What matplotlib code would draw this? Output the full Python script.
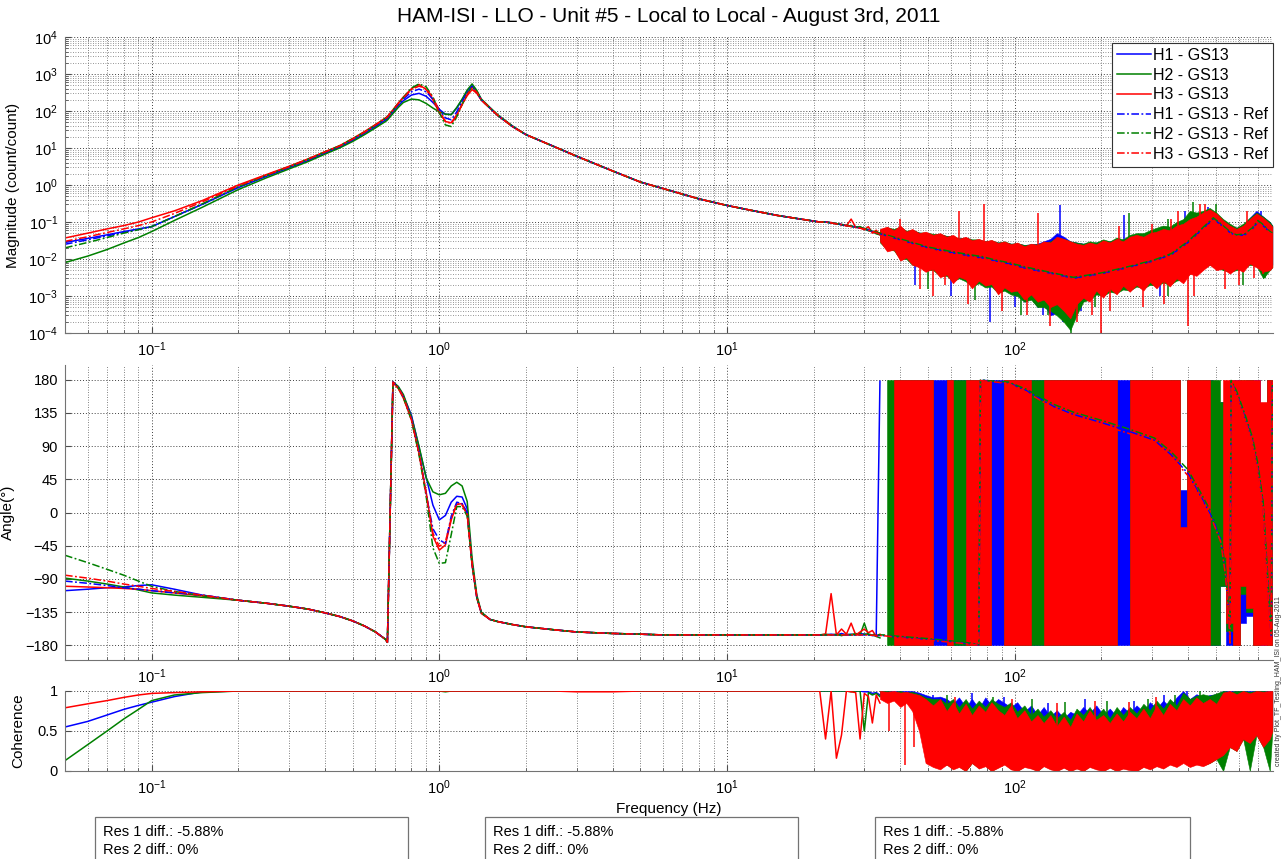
import matplotlib
matplotlib.use('Agg')
import matplotlib.pyplot as plt
from matplotlib.ticker import LogLocator, FixedLocator, NullFormatter
from matplotlib.patches import Rectangle

plt.rcParams['font.family'] = ['Liberation Sans', 'DejaVu Sans']
plt.rcParams['mathtext.fontset'] = 'custom'
plt.rcParams['mathtext.rm'] = 'Liberation Sans'
plt.rcParams['mathtext.default'] = 'regular'
plt.rcParams['font.size'] = 10

nan = float('nan')

# frequency grids (Hz)
freq_lo = [0.05, 0.06, 0.07, 0.08, 0.09, 0.1, 0.12, 0.15, 0.2, 0.25,
           0.3, 0.35, 0.4, 0.45, 0.5, 0.55, 0.6, 0.65, 0.66, 0.69,
           0.72, 0.75, 0.8, 0.85, 0.9, 0.95, 1.0, 1.05, 1.1, 1.15,
           1.2, 1.25, 1.3, 1.35, 1.4, 1.5, 1.6, 1.8, 2.0, 2.5,
           3.0, 4.0, 5.0, 6.0, 8.0, 10.0, 12.0, 15.0, 18.0, 21.0]
freq_mid = [22, 23, 24, 25, 26, 27, 28, 29, 30, 31, 32, 33, 34]
freq_band = [34, 36, 38, 40, 42, 44, 46.5, 49, 52, 55,
             58, 61, 64, 67.5, 71, 75, 79, 83, 87.5, 92,
             97, 102, 108, 114, 120, 126, 133, 140, 148, 156,
             164, 173, 182, 192, 203, 214, 226, 238, 251, 265,
             280, 295, 311, 328, 346, 365, 385, 406, 428, 451,
             476, 502, 530, 559, 590, 622, 656, 692, 730, 770,
             786]
freq_ref_hi = [22, 25, 30, 35, 40, 50, 60, 70, 75, 76, 85, 95, 110, 136, 160,
               200, 250, 306, 350, 400, 450, 490, 520, 540, 555, 560, 565,
               590, 630, 670, 700, 730, 766, 780, 786]
freq_line = freq_lo + freq_mid

# ---- magnitude (count/count) ----
mag_h1 = [0.028, 0.036, 0.045, 0.055, 0.065, 0.075, 0.14, 0.3, 0.85,
          1.7, 2.9, 4.6, 7.2, 10.5, 16, 25, 38, 57, 63, 95, 140, 190,
          270, 300, 250, 170, 110, 82, 80, 120, 200, 340, 480, 330, 200,
          120, 75, 38, 23, 11, 6, 2.4, 1.2, 0.8, 0.42, 0.28, 0.21, 0.15, 0.12, 0.1,
          0.1, 0.095, 0.09, 0.085, 0.08, 0.077, 0.073, 0.07, 0.066, 0.06, 0.055, 0.05, 0.047]
mag_h2 = [0.008, 0.012, 0.018, 0.027, 0.038, 0.055, 0.11, 0.25, 0.75,
          1.55, 2.7, 4.3, 6.8, 10, 15, 23, 35, 52, 57, 85, 125, 170,
          210, 200, 160, 120, 95, 82, 80, 125, 210, 370, 540, 360, 210,
          125, 78, 39, 23, 11, 6, 2.4, 1.2, 0.8, 0.42, 0.28, 0.21, 0.15, 0.12, 0.1,
          0.1, 0.094, 0.09, 0.084, 0.08, 0.076, 0.073, 0.075, 0.065, 0.058, 0.056, 0.048, 0.045]
mag_h3 = [0.037, 0.05, 0.065, 0.08, 0.1, 0.13, 0.2, 0.38, 1.0,
          1.9, 3.2, 5.1, 7.9, 11.5, 18, 28, 43, 65, 71, 108, 165, 240,
          400, 520, 380, 200, 90, 52, 48, 80, 150, 260, 380, 300, 195,
          118, 74, 37, 23, 11, 6, 2.4, 1.2, 0.8, 0.42, 0.28, 0.21, 0.15, 0.12, 0.1,
          0.1, 0.097, 0.089, 0.086, 0.079, 0.12, 0.072, 0.069, 0.062, 0.075, 0.05, 0.06, 0.045]

mag_h1r_lo = [0.025, 0.033, 0.042, 0.052, 0.063, 0.075, 0.14, 0.3, 0.88,
              1.75, 3.0, 4.8, 7.5, 11, 17, 26, 40, 60, 66, 100, 150, 210,
              330, 390, 330, 210, 110, 65, 58, 95, 180, 320, 460, 320, 200,
              120, 75, 38, 23, 11, 6, 2.4, 1.2, 0.8, 0.42, 0.28, 0.21, 0.15, 0.12, 0.1]
mag_h2r_lo = [0.02, 0.028, 0.038, 0.05, 0.062, 0.075, 0.14, 0.31, 0.9,
              1.8, 3.1, 5.0, 7.8, 11.5, 18, 27, 42, 64, 70, 106, 160, 230,
              420, 540, 450, 240, 90, 42, 38, 70, 150, 290, 450, 330, 200,
              120, 75, 38, 23, 11, 6, 2.4, 1.2, 0.8, 0.42, 0.28, 0.21, 0.15, 0.12, 0.1]
mag_h3r_lo = [0.03, 0.04, 0.052, 0.065, 0.08, 0.1, 0.17, 0.35, 0.95,
              1.85, 3.1, 5.0, 7.8, 11.3, 17.5, 27, 42, 63, 69, 104, 158, 225,
              380, 470, 400, 230, 100, 52, 46, 75, 150, 280, 420, 320, 200,
              120, 75, 38, 23, 11, 6, 2.4, 1.2, 0.8, 0.42, 0.28, 0.21, 0.15, 0.12, 0.1]
mag_h1r_hi = [0.1, 0.085, 0.066, 0.045, 0.033, 0.02, 0.015, 0.012, 0.011, 0.011,
              0.009, 0.0075, 0.0055, 0.004, 0.003, 0.004, 0.006, 0.009, 0.013, 0.028,
              0.065, 0.12, 0.085, 0.065, 0.055, 0.052, 0.05, 0.042, 0.045, 0.065,
              0.1, 0.08, 0.055, 0.05, 0.048]
mag_h2r_hi = [0.1, 0.086, 0.067, 0.047, 0.035, 0.021, 0.016, 0.013, 0.012, 0.012,
              0.0095, 0.008, 0.006, 0.0042, 0.0032, 0.0042, 0.0063, 0.0095, 0.014, 0.03,
              0.07, 0.13, 0.09, 0.07, 0.058, 0.055, 0.052, 0.045, 0.048, 0.07,
              0.11, 0.085, 0.058, 0.052, 0.05]
mag_h3r_hi = [0.1, 0.084, 0.065, 0.044, 0.032, 0.019, 0.014, 0.0115, 0.0105, 0.0105,
              0.0085, 0.007, 0.0052, 0.0038, 0.0028, 0.0038, 0.0057, 0.0085, 0.012, 0.026,
              0.06, 0.11, 0.08, 0.062, 0.052, 0.05, 0.048, 0.04, 0.043, 0.062,
              0.095, 0.075, 0.052, 0.048, 0.046]

# spread of the noisy measured magnitude above 34 Hz (low / high edge)
mag_h1_band_lo = [0.032, 0.02, 0.02, 0.012, 0.013, 0.009, 0.008, 0.006, 0.006, 0.004,
                  0.004, 0.003, 0.0035, 0.003, 0.0022, 0.0026, 0.002, 0.002, 0.0014, 0.0016,
                  0.0012, 0.0011, 0.0007, 0.0009, 0.0005, 0.0006, 0.0003, 0.00035, 0.00025, 0.0003,
                  0.0005, 0.0008, 0.0009, 0.0012, 0.0011, 0.0014, 0.0013, 0.0017, 0.0015, 0.0019,
                  0.0017, 0.0022, 0.002, 0.0025, 0.0022, 0.0028, 0.003, 0.0045, 0.005, 0.006,
                  0.008, 0.007, 0.006, 0.005, 0.006, 0.006, 0.008, 0.007, 0.006, 0.006,
                  0.007]
mag_h1_band_hi = [0.06, 0.07, 0.062, 0.07, 0.055, 0.06, 0.052, 0.05, 0.045, 0.046,
                  0.042, 0.04, 0.036, 0.038, 0.033, 0.033, 0.03, 0.03, 0.028, 0.028,
                  0.026, 0.026, 0.024, 0.025, 0.026, 0.03, 0.035, 0.05, 0.04, 0.03,
                  0.028, 0.026, 0.027, 0.028, 0.03, 0.03, 0.033, 0.033, 0.04, 0.045,
                  0.045, 0.05, 0.06, 0.07, 0.065, 0.08, 0.1, 0.13, 0.16, 0.19,
                  0.2, 0.16, 0.1, 0.08, 0.07, 0.08, 0.13, 0.2, 0.14, 0.1,
                  0.08]
mag_h2_band_lo = [0.028, 0.018, 0.017, 0.01, 0.01, 0.007, 0.0065, 0.005, 0.005, 0.0035,
                  0.0035, 0.0025, 0.003, 0.0025, 0.0018, 0.0022, 0.0017, 0.0018, 0.0012, 0.0014,
                  0.0011, 0.001, 0.0007, 0.0008, 0.0005, 0.0005, 0.0004, 0.0003, 0.0002, 0.00012,
                  0.0003, 0.0007, 0.0008, 0.0011, 0.001, 0.0013, 0.0012, 0.0015, 0.0014, 0.0018,
                  0.0016, 0.002, 0.0019, 0.0023, 0.002, 0.0026, 0.0028, 0.004, 0.0045, 0.0055,
                  0.007, 0.006, 0.005, 0.0045, 0.005, 0.0055, 0.007, 0.0065, 0.003, 0.005,
                  0.006]
mag_h2_band_hi = [0.062, 0.072, 0.065, 0.075, 0.058, 0.062, 0.052, 0.052, 0.048, 0.048,
                  0.042, 0.042, 0.036, 0.038, 0.034, 0.034, 0.03, 0.032, 0.028, 0.03,
                  0.026, 0.027, 0.024, 0.025, 0.025, 0.028, 0.03, 0.038, 0.035, 0.03,
                  0.028, 0.026, 0.03, 0.028, 0.034, 0.03, 0.038, 0.034, 0.045, 0.05,
                  0.05, 0.06, 0.07, 0.08, 0.075, 0.1, 0.12, 0.2, 0.18, 0.2,
                  0.24, 0.18, 0.12, 0.09, 0.07, 0.09, 0.13, 0.18, 0.14, 0.1,
                  0.08]
mag_h3_band_lo = [0.03, 0.016, 0.018, 0.009, 0.011, 0.007, 0.006, 0.0045, 0.0055, 0.0032,
                  0.0038, 0.0022, 0.0033, 0.0028, 0.0016, 0.0026, 0.0019, 0.0021, 0.0011, 0.0017,
                  0.0013, 0.0014, 0.0008, 0.0011, 0.0007, 0.0008, 0.0005, 0.0006, 0.0004, 0.00025,
                  0.0006, 0.0009, 0.0007, 0.0014, 0.0009, 0.0016, 0.0011, 0.0019, 0.0013, 0.002,
                  0.0014, 0.0024, 0.0016, 0.0026, 0.0018, 0.003, 0.0022, 0.004, 0.0035, 0.005,
                  0.007, 0.005, 0.0055, 0.004, 0.0055, 0.0045, 0.0075, 0.006, 0.0045, 0.005,
                  0.006]
mag_h3_band_hi = [0.065, 0.075, 0.06, 0.08, 0.055, 0.065, 0.05, 0.055, 0.045, 0.05,
                  0.04, 0.045, 0.035, 0.04, 0.032, 0.035, 0.03, 0.033, 0.027, 0.03,
                  0.025, 0.028, 0.022, 0.026, 0.024, 0.03, 0.028, 0.04, 0.035, 0.03,
                  0.026, 0.024, 0.028, 0.025, 0.032, 0.028, 0.035, 0.03, 0.04, 0.045,
                  0.04, 0.05, 0.055, 0.065, 0.06, 0.08, 0.09, 0.12, 0.14, 0.18,
                  0.22, 0.17, 0.11, 0.08, 0.065, 0.08, 0.12, 0.17, 0.13, 0.09,
                  0.075]

# isolated spikes reaching past the noise band
mag_h1_spk_f = [45, 60, 82, 100, 125, 144, 147, 170, 240, 320, 390, 470, 720]
mag_h1_spk_lo = [0.002, 0.001, 0.0002, 0.0005, 0.0003, 0.002, 0.0002, 0.0004, 0.004,
                 0.001, 0.003, 0.01, 0.01]
mag_h1_spk_hi = [0.015, 0.01, 0.003, 0.006, 0.005, 0.28, 0.006, 0.006, 0.15,
                 0.01, 0.2, 0.25, 0.2]
mag_h2_spk_f = [50, 73, 105, 130, 157, 190, 250, 340, 417, 500, 620, 740]
mag_h2_spk_lo = [0.0015, 0.0008, 0.0003, 0.0003, 0.0001, 0.0005, 0.003, 0.001, 0.01,
                 0.01, 0.002, 0.003]
mag_h2_spk_hi = [0.012, 0.008, 0.004, 0.004, 0.003, 0.006, 0.18, 0.12, 0.35,
                 0.3, 0.03, 0.05]
mag_h3_spk_f = [40, 47, 52, 57, 64, 69, 78, 90, 110, 120,
                133, 165, 185, 200, 215, 230, 280, 300, 330, 350,
                370, 400, 420, 440, 460, 540, 600, 640, 680, 730]
mag_h3_spk_lo = [0.01, 0.0015, 0.001, 0.002, 0.005, 0.0006, 0.004, 0.0004, 0.0003, 0.003,
                 0.00015, 0.0002, 0.0003, 0.0001, 0.0004, 0.003, 0.0005, 0.004, 0.0006, 0.005,
                 0.005, 0.00015, 0.001, 0.01, 0.01, 0.0015, 0.002, 0.01, 0.003, 0.004]
mag_h3_spk_hi = [0.12, 0.02, 0.015, 0.03, 0.2, 0.01, 0.3, 0.01, 0.01, 0.17,
                 0.008, 0.01, 0.01, 0.02, 0.01, 0.08, 0.01, 0.09, 0.02, 0.12,
                 0.2, 0.02, 0.05, 0.3, 0.3, 0.03, 0.04, 0.2, 0.05, 0.1]

# ---- phase (degrees) ----
ph_h1 = [-106, -104, -102, -101, -99, -98, -104, -112,
         -119, -123, -127, -131, -136, -141, -147, -154, -162, -172, -176,
         177, 170, 158,
         132, 88, 48, 10, -10, -4, 14, 22, 21, 5,
         -70, -115, -136, -145, -148, -152, -155, -159, -162, -164, -165,
         -166, -166, -166, -166, -166, -166, -166,
         -166, -165, -166, -164, -166, -165, -166, -164, -165, -165, -167, -166, 178]
ph_h2 = [-89, -93, -97, -101, -105, -109, -112, -115,
         -119, -123, -127, -131, -136, -141, -147, -154, -162, -172, -176,
         177, 171, 160,
         130, 90, 47, 28, 24, 26, 36, 41, 36, 15,
         -62, -112, -135, -145, -148, -152, -155, -159, -162, -164, -165,
         -166, -166, -166, -166, -166, -166, -166,
         -165, -166, -165, -167, -165, -166, -164, -166, -150, -166, -166, -168, -170]
ph_h3 = [-100, -101, -102, -103, -104, -106, -109, -113,
         -119, -123, -127, -131, -136, -141, -147, -154, -162, -172, -176,
         176, 168, 155,
         126, 80, 28, -32, -51, -44, -10, 11, 12, -2,
         -72, -116, -137, -145, -148, -152, -155, -159, -162, -164, -165,
         -166, -166, -166, -166, -166, -166, -166,
         -165, -110, -166, -158, -165, -150, -166, -162, -158, -163, -160, -168, -165]

ph_h1r_lo = [-93, -96, -99, -102, -104, -106, -109, -112,
             -119, -123, -127, -131, -136, -141, -147, -154, -162, -172, -176,
             177, 170, 157,
             128, 82, 25, -22, -37, -42, -5, 14, 12, 0,
             -70, -115, -136, -145, -148, -152, -155, -159, -162, -164, -165,
             -166, -166, -166, -166, -166, -166, -166]
ph_h2r_lo = [-58, -68, -77, -85, -93, -100, -107, -113,
             -119, -123, -127, -131, -136, -141, -147, -154, -162, -172, -176,
             177, 169, 156,
             125, 78, 22, -48, -69, -68, -30, 8, 8, -5,
             -70, -115, -136, -145, -148, -152, -155, -159, -162, -164, -165,
             -166, -166, -166, -166, -166, -166, -166]
ph_h3r_lo = [-85, -89, -93, -97, -100, -103, -107, -112,
             -119, -123, -127, -131, -136, -141, -147, -154, -162, -172, -176,
             177, 169, 157,
             126, 80, 25, -28, -46, -40, -8, 12, 10, -3,
             -70, -115, -136, -145, -148, -152, -155, -159, -162, -164, -165,
             -166, -166, -166, -166, -166, -166, -166]
ph_h1r_hi = [-166, -166, -166, -167, -169, -172, -175, -178, -179.5, 179.5,
             178, 176, 165, 144, 133, 122, 110, 98, 78, 53,
             17, -10, -37, -80, -140, -178, 178, 162, 130, 98,
             60, 8, -128, -170, 178]
ph_h2r_hi = [-166, -166, -165, -166, -168, -171, -174, -177, -179, 179.8,
             178, 177, 167, 147, 136, 125, 113, 101, 82, 58,
             22, -5, -32, -75, -135, -176, 179, 165, 134, 102,
             66, 15, -118, -165, 178]
ph_h3r_hi = [-166, -166, -166, -167, -170, -173, -176, -178.5, -179.8, 179,
             177, 175, 163, 142, 130, 119, 107, 95, 75, 50,
             14, -14, -40, -85, -145, -179, 177, 160, 127, 95,
             56, 3, -135, -173, 178]

# wrapped phase above 34 Hz sweeps the whole +-180 range (nan: no trace there)
ph_h1_band_lo = [nan, nan, -180, -180, -180, -180, -180, -180, -180, -180,
                 -180, -180, -180, -180, -180, -180, -180, -180, -180, -180,
                 -180, -180, -180, -180, -180, -180, -180, -180, -180, -180,
                 -180, -180, -180, -180, -180, -180, -180, -180, -180, -180,
                 -180, -180, -180, -180, -180, -180, -180, -180, -180, -180,
                 -180, -180, -100, -180, -180, -150, -140, -180, -180, -120,
                 -180]
ph_h1_band_hi = [nan, nan, 180, 180, 180, 180, 180, 180, 180, 180,
                 180, 180, 180, 180, 180, 180, 180, 180, 180, 180,
                 180, 180, 180, 180, 180, 180, 180, 180, 180, 180,
                 180, 180, 180, 180, 180, 180, 180, 180, 180, 180,
                 180, 180, 180, 180, 180, 180, 30, 180, 180, 180,
                 180, 120, 150, 100, 180, 150, 180, 180, 100, 180,
                 180]
ph_h2_band_lo = [nan, -180, -180, -180, -180, -180, -180, -180, -180, nan,
                 -180, -180, -180, -180, -180, -180, -180, -180, nan, -180,
                 -180, -180, -180, -180, -180, -180, -180, -180, -180, -180,
                 -180, -180, -180, -180, -180, -180, -180, nan, -180, -180,
                 -180, -180, -180, -180, -180, -180, -180, -180, -180, -180,
                 -180, -180, -100, -160, -180, -110, -135, -180, -150, -180,
                 -180]
ph_h2_band_hi = [nan, 180, 180, 180, 180, 180, 180, 180, 180, nan,
                 180, 180, 180, 180, 180, 180, 180, 180, nan, 180,
                 180, 180, 180, 180, 180, 180, 180, 180, 180, 180,
                 180, 180, 180, 180, 180, 180, 180, nan, 180, 180,
                 180, 180, 180, 180, 180, 180, -40, 180, 180, 180,
                 180, 180, 150, 120, 60, 180, 180, 100, 120, 180,
                 180]
ph_h3_band_lo = [nan, nan, -180, -180, -180, -180, -180, -180, -180, nan,
                 -180, -180, nan, -180, -180, -180, -180, -180, nan, -180,
                 -180, -180, -180, -180, nan, -180, -180, -180, -180, -180,
                 -180, -180, -180, -180, -180, -180, -180, nan, -180, -180,
                 -180, -180, -180, -180, -180, -180, -180, -180, -180, -180,
                 -180, nan, -60, -150, -180, -100, -130, -180, -180, -180,
                 -180]
ph_h3_band_hi = [nan, nan, 180, 180, 180, 180, 180, 180, 180, nan,
                 180, 180, nan, 180, 180, 180, 180, 180, nan, 180,
                 180, 180, 180, 180, nan, 180, 180, 180, 180, 180,
                 180, 180, 180, 180, 180, 180, 180, nan, 180, 180,
                 180, 180, 180, 180, 180, 180, -20, 180, 180, 180,
                 180, nan, 180, 180, 180, 180, 180, 180, 150, 180,
                 180]

# ---- coherence ----
coh_h1 = [0.55, 0.62, 0.7, 0.77, 0.82, 0.86, 0.93, 0.99,
          1.0, 1.0, 1.0, 1.0, 1.0, 1.0, 1.0, 1.0, 1.0, 1.0, 1.0, 1.0, 1.0,
          1.0, 1.0, 1.0, 1.0, 1.0, 1.0, 1.0, 1.0, 1.0, 1.0, 1.0, 1.0, 1.0,
          1.0, 1.0, 1.0, 1.0, 1.0, 1.0, 1.0, 1.0, 1.0, 1.0, 1.0, 1.0, 1.0,
          1.0, 1.0, 1.0,
          1.0, 1.0, 1.0, 1.0, 1.0, 1.0, 1.0, 1.0, 0.99, 0.99, 0.97, 0.98, 0.95]
coh_h2 = [0.13, 0.33, 0.5, 0.65, 0.77, 0.88, 0.95, 0.98,
          1.0, 1.0, 1.0, 1.0, 1.0, 1.0, 1.0, 1.0, 1.0, 1.0, 1.0, 1.0, 1.0,
          1.0, 1.0, 1.0, 1.0, 1.0, 1.0, 0.99, 1.0, 1.0, 1.0, 1.0, 1.0, 1.0,
          1.0, 1.0, 1.0, 1.0, 1.0, 1.0, 1.0, 1.0, 1.0, 1.0, 1.0, 1.0, 1.0,
          1.0, 1.0, 1.0,
          1.0, 1.0, 1.0, 1.0, 1.0, 0.99, 1.0, 1.0, 0.5, 0.98, 0.95, 0.97, 0.93]
coh_h3 = [0.79, 0.84, 0.88, 0.92, 0.95, 0.97, 0.98, 0.99,
          1.0, 1.0, 1.0, 1.0, 1.0, 1.0, 1.0, 1.0, 1.0, 1.0, 1.0, 1.0, 1.0,
          1.0, 1.0, 1.0, 1.0, 1.0, 1.0, 1.0, 1.0, 1.0, 1.0, 1.0, 1.0, 1.0,
          1.0, 1.0, 1.0, 1.0, 1.0, 1.0, 0.99, 0.99, 1.0, 1.0, 1.0, 1.0, 1.0,
          1.0, 1.0, 1.0,
          0.4, 1.0, 0.16, 0.45, 1.0, 0.99, 0.98, 0.4, 0.97, 0.93, 0.6, 0.95, 0.85]

coh_h1_band_lo = [0.95, 0.93, 0.94, 0.9, 0.92, 0.88, 0.8, 0.3, 0.15, 0.1,
                  0.1, 0.05, 0.08, 0.03, 0.12, 0.05, 0.08, 0.02, 0.06, 0.1,
                  0.04, 0.02, 0.07, 0.05, 0.02, 0.08, 0.04, 0.02, 0.06, 0.02,
                  0.05, 0.02, 0.07, 0.04, 0.02, 0.06, 0.02, 0.05, 0.03, 0.02,
                  0.07, 0.04, 0.08, 0.05, 0.1, 0.07, 0.6, 0.07, 0.1, 0.08,
                  0.12, 0.18, 0.25, 0.35, 0.3, 0.45, 0.4, 0.5, 0.35, 0.45,
                  0.55]
coh_h1_band_hi = [1.0, 1.0, 1.0, 1.0, 1.0, 1.0, 0.98, 0.95, 0.92, 0.93,
                  0.9, 0.84, 0.92, 0.8, 0.9, 0.78, 0.92, 0.82, 0.9, 0.85,
                  0.8, 0.86, 0.74, 0.82, 0.7, 0.8, 0.68, 0.76, 0.66, 0.74,
                  0.7, 0.8, 0.72, 0.82, 0.7, 0.78, 0.68, 0.8, 0.72, 0.82,
                  0.74, 0.86, 0.78, 0.88, 0.8, 0.92, 1.0, 0.9, 0.96, 0.92,
                  0.95, 0.96, 1.0, 1.0, 1.0, 1.0, 1.0, 1.0, 1.0, 1.0,
                  1.0]
coh_h2_band_lo = [0.95, 0.92, 0.93, 0.9, 0.9, 0.85, 0.7, 0.2, 0.1, 0.05,
                  0.08, 0.03, 0.06, 0.0, 0.1, 0.04, 0.07, 0.0, 0.05, 0.09,
                  0.03, 0.0, 0.06, 0.04, 0.0, 0.07, 0.03, 0.0, 0.05, 0.0,
                  0.04, 0.0, 0.06, 0.03, 0.0, 0.05, 0.0, 0.04, 0.02, 0.0,
                  0.06, 0.03, 0.07, 0.04, 0.09, 0.06, 0.5, 0.06, 0.09, 0.07,
                  0.1, 0.15, 0.0, 0.3, 0.25, 0.4, 0.0, 0.45, 0.3, 0.0,
                  0.5]
coh_h2_band_hi = [1.0, 1.0, 0.99, 1.0, 0.98, 0.99, 0.96, 0.92, 0.9, 0.9,
                  0.84, 0.9, 0.8, 0.9, 0.78, 0.88, 0.8, 0.9, 0.84, 0.8,
                  0.86, 0.74, 0.82, 0.7, 0.78, 0.68, 0.76, 0.66, 0.74, 0.64,
                  0.78, 0.7, 0.8, 0.68, 0.78, 0.66, 0.8, 0.7, 0.8, 0.72,
                  0.84, 0.76, 0.88, 0.78, 0.9, 0.82, 0.98, 0.9, 0.94, 0.96,
                  0.94, 0.97, 1.0, 0.99, 1.0, 1.0, 0.99, 1.0, 1.0, 0.99,
                  1.0]
coh_h3_band_lo = [0.9, 0.85, 0.88, 0.8, 0.85, 0.75, 0.5, 0.1, 0.05, 0.02,
                  0.08, 0.02, 0.05, 0.0, 0.1, 0.03, 0.06, 0.0, 0.04, 0.08,
                  0.02, 0.0, 0.05, 0.03, 0.0, 0.06, 0.02, 0.0, 0.04, 0.0,
                  0.03, 0.0, 0.05, 0.02, 0.0, 0.04, 0.0, 0.03, 0.01, 0.0,
                  0.05, 0.02, 0.06, 0.03, 0.08, 0.05, 0.1, 0.05, 0.08, 0.06,
                  0.1, 0.15, 0.2, 0.3, 0.25, 0.4, 0.35, 0.45, 0.3, 0.4,
                  0.5]
coh_h3_band_hi = [1.0, 0.99, 1.0, 0.98, 0.99, 0.97, 0.95, 0.9, 0.82, 0.9,
                  0.75, 0.86, 0.72, 0.84, 0.7, 0.82, 0.74, 0.86, 0.76, 0.7,
                  0.82, 0.66, 0.76, 0.62, 0.7, 0.6, 0.7, 0.56, 0.68, 0.55,
                  0.72, 0.62, 0.76, 0.64, 0.7, 0.6, 0.72, 0.62, 0.74, 0.66,
                  0.78, 0.66, 0.82, 0.7, 0.84, 0.76, 0.9, 0.82, 0.92, 0.85,
                  0.9, 0.84, 0.98, 1.0, 0.96, 1.0, 0.97, 1.0, 0.99, 1.0,
                  1.0]
coh_h1_spk_f = [52, 71, 92, 130, 175, 260, 330, 398]
coh_h1_spk_lo = [0.5, 0.5, 0.4, 0.3, 0.4, 0.4, 0.5, 0.5]
coh_h1_spk_hi = [0.95, 0.97, 0.93, 0.85, 0.9, 0.88, 0.95, 1.0]
coh_h2_spk_f = [58, 84, 115, 150, 210, 290, 360, 440]
coh_h2_spk_lo = [0.4, 0.4, 0.4, 0.3, 0.4, 0.4, 0.4, 0.5]
coh_h2_spk_hi = [0.95, 0.93, 0.9, 0.86, 0.88, 0.9, 0.95, 1.0]
coh_h3_spk_f = [36.5, 41.6, 44.8, 62, 98, 140, 190, 250, 310]
coh_h3_spk_lo = [0.5, 0.07, 0.3, 0.3, 0.3, 0.3, 0.3, 0.3, 0.3]
coh_h3_spk_hi = [0.95, 0.9, 0.85, 0.92, 0.9, 0.85, 0.88, 0.86, 0.92]

labels = ['H1 - GS13', 'H2 - GS13', 'H3 - GS13',
          'H1 - GS13 - Ref', 'H2 - GS13 - Ref', 'H3 - GS13 - Ref']
colors = ['#0000ff', '#008000', '#ff0000']
dashdot = (0, (5, 1.6, 1.2, 1.6))
decades_x = [0.1, 1, 10, 100]
decades_y = [1e-4, 1e-3, 1e-2, 1e-1, 1, 10, 100, 1e3, 1e4]

W, H = 1283, 859
fig = plt.figure(figsize=(W / 100, H / 100), dpi=100)


def px_axes(left, top, right, bottom):
    return fig.add_axes([left / W, 1 - bottom / H, (right - left) / W, (bottom - top) / H])


ax_mag = px_axes(65, 37, 1273, 333)
ax_ph = px_axes(65, 365, 1273, 660)
ax_coh = px_axes(65, 691, 1273, 771)


def measured(ax, lines, band_lo, band_hi, spikes=None, step=None):
    # H1, H2, H3 stacked in plotting order, each one over the previous
    handles = []
    for i, c in enumerate(colors):
        z = 2 + 0.1 * i
        h, = ax.plot(freq_line, lines[i], color=c, lw=1.1, zorder=z)
        ax.fill_between(freq_band, band_lo[i], band_hi[i], color=c, lw=0.4,
                        step=step, zorder=z)
        if spikes and spikes[i]:
            f, lo, hi = spikes[i]
            ax.vlines(f, lo, hi, color=c, lw=1.1, zorder=z)
        handles.append(h)
    return handles


def reference(ax, lo_sets, hi_sets):
    handles = []
    for c, lo, hi in zip(colors, lo_sets, hi_sets):
        h, = ax.plot(freq_lo + freq_ref_hi, lo + hi, color=c, lw=1.1, ls=dashdot,
                     zorder=2.5)
        handles.append(h)
    return handles


def style(ax, ylabel, xlab_x):
    ax.set_xscale('log')
    ax.set_xlim(0.05, 790)
    ax.xaxis.set_major_locator(FixedLocator(decades_x))
    ax.xaxis.set_minor_locator(LogLocator(base=10, subs=range(2, 10), numticks=100))
    ax.xaxis.set_minor_formatter(NullFormatter())
    ax.grid(True, which='major', ls=(0, (1, 2)), color='0.25', lw=0.7)
    ax.grid(True, which='minor', axis='x', ls=(0, (1, 2)), color='0.35', lw=0.6)
    ax.tick_params(which='both', direction='in', top=False, right=False,
                   labelsize=10.5, color='0.3', pad=5)
    ax.tick_params(which='major', length=4)
    ax.tick_params(which='minor', length=2.5)
    for s in ['top', 'right']:
        ax.spines[s].set_visible(False)
    for s in ['left', 'bottom']:
        ax.spines[s].set_color('0.45')
    ax.set_axisbelow(True)
    ax.set_ylabel(ylabel, fontsize=11)
    ax.yaxis.set_label_coords((xlab_x - 65) / 1208, 0.5)


# magnitude
h_meas = measured(ax_mag, [mag_h1, mag_h2, mag_h3],
                  [mag_h1_band_lo, mag_h2_band_lo, mag_h3_band_lo],
                  [mag_h1_band_hi, mag_h2_band_hi, mag_h3_band_hi],
                  [(mag_h1_spk_f, mag_h1_spk_lo, mag_h1_spk_hi),
                   (mag_h2_spk_f, mag_h2_spk_lo, mag_h2_spk_hi),
                   (mag_h3_spk_f, mag_h3_spk_lo, mag_h3_spk_hi)])
h_ref = reference(ax_mag, [mag_h1r_lo, mag_h2r_lo, mag_h3r_lo],
                  [mag_h1r_hi, mag_h2r_hi, mag_h3r_hi])
ax_mag.set_yscale('log')
ax_mag.set_ylim(1e-4, 1e4)
ax_mag.yaxis.set_major_locator(FixedLocator(decades_y))
ax_mag.yaxis.set_minor_locator(LogLocator(base=10, subs=range(2, 10), numticks=200))
ax_mag.yaxis.set_minor_formatter(NullFormatter())
style(ax_mag, 'Magnitude (count/count)', 20)
ax_mag.grid(True, which='minor', axis='y', ls=(0, (1, 2)), color='0.45', lw=0.6)
leg = ax_mag.legend(h_meas + h_ref, labels, loc='upper right',
                    bbox_to_anchor=(1.0, 1 - 6 / 296), fontsize=11.5,
                    frameon=True, fancybox=False, edgecolor='0.2', framealpha=1,
                    borderaxespad=0, handlelength=2.1, handletextpad=0.15,
                    labelspacing=0.3, borderpad=0.3)
leg.get_frame().set_linewidth(0.8)
leg.set_zorder(5)

# phase
measured(ax_ph, [ph_h1, ph_h2, ph_h3],
         [ph_h1_band_lo, ph_h2_band_lo, ph_h3_band_lo],
         [ph_h1_band_hi, ph_h2_band_hi, ph_h3_band_hi], step='mid')
reference(ax_ph, [ph_h1r_lo, ph_h2r_lo, ph_h3r_lo],
          [ph_h1r_hi, ph_h2r_hi, ph_h3r_hi])
ax_ph.set_ylim(-200, 200)
ax_ph.yaxis.set_major_locator(FixedLocator(range(-180, 181, 45)))
style(ax_ph, 'Angle(°)', 15)

# coherence
measured(ax_coh, [coh_h1, coh_h2, coh_h3],
         [coh_h1_band_lo, coh_h2_band_lo, coh_h3_band_lo],
         [coh_h1_band_hi, coh_h2_band_hi, coh_h3_band_hi],
         [(coh_h1_spk_f, coh_h1_spk_lo, coh_h1_spk_hi),
          (coh_h2_spk_f, coh_h2_spk_lo, coh_h2_spk_hi),
          (coh_h3_spk_f, coh_h3_spk_lo, coh_h3_spk_hi)])
ax_coh.set_ylim(0, 1)
ax_coh.set_yticks([0, 0.5, 1])
ax_coh.set_yticklabels(['0', '0.5', '1'])
style(ax_coh, 'Coherence', 25)
ax_coh.set_xlabel('Frequency (Hz)', fontsize=11)

fig.text(669 / W, 1 - 17 / H, 'HAM-ISI - LLO - Unit #5 - Local to Local - August 3rd, 2011',
         ha='center', va='center', fontsize=15)

# result boxes under the plots
for left, right in [(95, 408), (485, 798), (875, 1190)]:
    fig.patches.append(Rectangle((left / W, -0.05), (right - left) / W, 1 - 817 / H + 0.05,
                                 transform=fig.transFigure, fill=False,
                                 edgecolor='0.45', lw=0.9))
    fig.text((left + 8) / W, 1 - 832 / H, 'Res 1 diff.: -5.88%', va='center', fontsize=10.5)
    fig.text((left + 8) / W, 1 - 850 / H, 'Res 2 diff.: 0%', va='center', fontsize=10.5)

fig.text(1279 / W, 1 - 766 / H, 'created by Plot_TF_Testing_HAM_ISI on 05-Aug-2011',
         rotation=90, ha='center', va='bottom', fontsize=5, color='0.2')

fig.savefig('out.png', dpi=100)
